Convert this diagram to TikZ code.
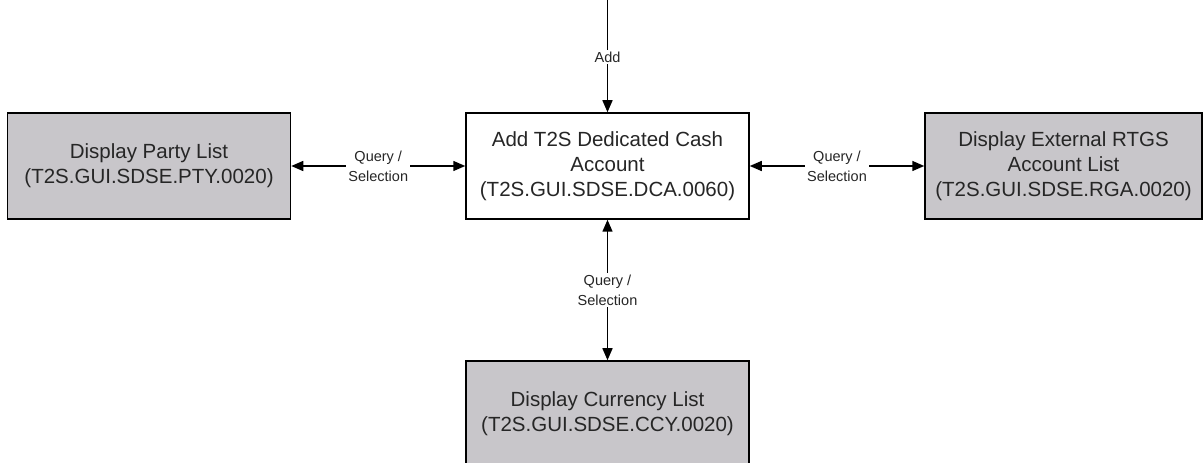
\documentclass[tikz,border=0pt]{standalone}
\usepackage{fontspec}
\setmainfont{Liberation Sans}
\usetikzlibrary{arrows.meta}
\definecolor{listgray}{RGB}{200,198,202}
\tikzset{
  screenbox/.style={draw=black, line width=1.5pt, fill=white, minimum width=283pt, minimum height=106pt,
    align=center, font=\fontsize{20.5}{25}\selectfont, text=black!85},
  listbox/.style={screenbox, fill=listgray},
  linklabel/.style={fill=white, align=center, inner sep=2pt, font=\fontsize{14.5}{20}\selectfont, text=black!85},
  flow/.style={line width=1.5pt, -{Triangle[length=12pt,width=10pt]}},
  flows/.style={line width=1.5pt, {Triangle[length=12pt,width=10pt]}-{Triangle[length=12pt,width=10pt]}}
}
\begin{document}
\begin{tikzpicture}[x=1pt,y=1pt]
\useasboundingbox (0,0) rectangle (1203,463);
\node (dca) [screenbox] at (607.5,297) {Add T2S Dedicated Cash\\Account\\(T2S.GUI.SDSE.DCA.0060)};
\node (pty) [listbox] at (149,297) {Display Party List\\(T2S.GUI.SDSE.PTY.0020)};
\node (rga) [listbox, minimum width=277pt] at (1063.5,297) {Display External RTGS\\Account List\\(T2S.GUI.SDSE.RGA.0020)};
\node (ccy) [listbox] at (607.5,49) {Display Currency List\\(T2S.GUI.SDSE.CCY.0020)};
\coordinate (entry) at (607.5,466);
\draw [flow] (entry) -- node [linklabel, pos=0.52] {Add} (dca.north);
\draw [flows] (pty.east) -- node [linklabel] {Query /\\Selection} (dca.west);
\draw [flows] (dca.east) -- node [linklabel] {Query /\\Selection} (rga.west);
\draw [flows] (dca.south) -- node [linklabel] {Query /\\Selection} (ccy.north);
\end{tikzpicture}
\end{document}
